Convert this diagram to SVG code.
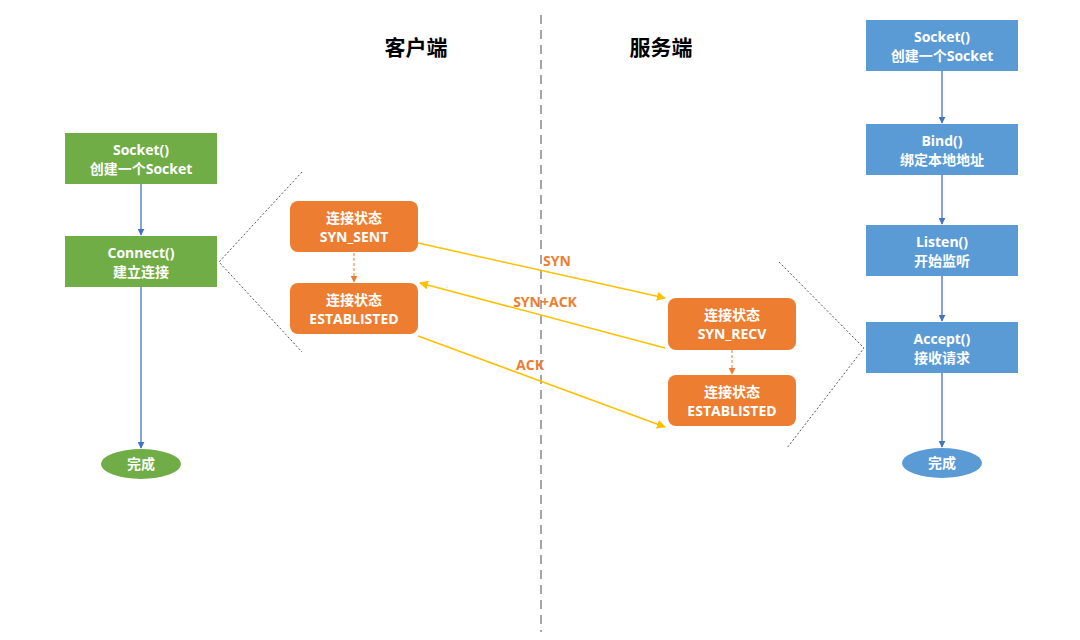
<svg xmlns="http://www.w3.org/2000/svg" width="1080" height="640" viewBox="0 0 1080 640">
<defs>
<style>
.t{font-family:"Open Sans","Noto Sans CJK SC",sans-serif;font-size:14px;font-weight:bold;fill:#fff;text-anchor:middle}
.h{font-family:"Noto Sans CJK SC",sans-serif;font-size:21px;font-weight:bold;fill:#000;text-anchor:middle}
.lbl{font-family:"Open Sans","Noto Sans CJK SC",sans-serif;font-size:14px;font-weight:bold;fill:#ED7D31;text-anchor:middle}
.g{fill:#70AD47}
.b{fill:#5B9BD5}
.o{fill:#ED7D31}
.bl{stroke:#4472C4;stroke-width:1.3;fill:none;marker-end:url(#ab)}
.yl{stroke:#FFC000;stroke-width:1.5;fill:none}
.od{stroke:#ED7D31;stroke-width:1;stroke-dasharray:3,2;fill:none;marker-end:url(#ao)}
.br{stroke:#555;stroke-width:1;stroke-dasharray:2,2;fill:none}
</style>
<marker id="ab" viewBox="0 0 10 10" refX="9" refY="5" markerWidth="7" markerHeight="7" orient="auto" markerUnits="userSpaceOnUse"><path d="M0,0L10,5L0,10z" fill="#4472C4"/></marker>
<marker id="ay" viewBox="0 0 10 10" refX="9" refY="5" markerWidth="9" markerHeight="9" orient="auto" markerUnits="userSpaceOnUse"><path d="M0,0L10,5L0,10z" fill="#FFC000"/></marker>
<marker id="ao" viewBox="0 0 10 10" refX="9" refY="5" markerWidth="7" markerHeight="7" orient="auto" markerUnits="userSpaceOnUse"><path d="M0,0L10,5L0,10z" fill="#ED7D31"/></marker>
</defs>
<rect width="1080" height="640" fill="#fff"/>
<line x1="541" y1="15" x2="541" y2="632" stroke="#A6A6A6" stroke-width="2" stroke-dasharray="9,6"/>
<text class="h" x="416" y="55">客户端</text>
<text class="h" x="661" y="55">服务端</text>

<g id="connectors">
<line class="bl" x1="141" y1="184" x2="141" y2="235"/>
<line class="bl" x1="141" y1="287" x2="141" y2="448"/>
<line class="bl" x1="942" y1="71" x2="942" y2="123"/>
<line class="bl" x1="942" y1="175" x2="942" y2="224"/>
<line class="bl" x1="942" y1="276" x2="942" y2="321"/>
<line class="bl" x1="942" y1="373" x2="942" y2="447"/>
<line class="od" x1="354" y1="253" x2="354" y2="282"/>
<line class="od" x1="732" y1="350" x2="732" y2="374"/>
<line class="yl" x1="418" y1="243" x2="665" y2="298" marker-end="url(#ay)"/>
<line class="yl" x1="665" y1="348" x2="420" y2="283" marker-end="url(#ay)"/>
<line class="yl" x1="418" y1="336" x2="665" y2="427" marker-end="url(#ay)"/>
<polyline class="br" points="302,172 219,262 302,352"/>
<polyline class="br" points="779,262 864,348 787,448"/>
<text class="lbl" x="557" y="266">SYN</text>
<text class="lbl" x="545" y="307">SYN+ACK</text>
<text class="lbl" x="530" y="370">ACK</text>
</g>

<g id="c-socket"><rect class="g" x="65" y="133" width="152" height="51"/><text class="t" x="141" y="155">Socket()</text><text class="t" x="141" y="174">创建一个Socket</text></g>
<g id="c-connect"><rect class="g" x="65" y="236" width="152" height="51"/><text class="t" x="141" y="258">Connect()</text><text class="t" x="141" y="277">建立连接</text></g>
<g id="c-done"><ellipse class="g" cx="141" cy="464" rx="40" ry="15"/><text class="t" x="141" y="469">完成</text></g>

<g id="c-synsent"><rect class="o" x="290" y="201" width="128" height="51" rx="8"/><text class="t" x="354" y="223">连接状态</text><text class="t" x="354" y="242">SYN_SENT</text></g>
<g id="c-est"><rect class="o" x="290" y="283" width="128" height="51" rx="8"/><text class="t" x="354" y="305">连接状态</text><text class="t" x="354" y="324">ESTABLISTED</text></g>
<g id="s-synrecv"><rect class="o" x="668" y="298" width="128" height="52" rx="8"/><text class="t" x="732" y="320">连接状态</text><text class="t" x="732" y="339">SYN_RECV</text></g>
<g id="s-est"><rect class="o" x="668" y="375" width="128" height="51" rx="8"/><text class="t" x="732" y="397">连接状态</text><text class="t" x="732" y="416">ESTABLISTED</text></g>

<g id="s-socket"><rect class="b" x="866" y="20" width="152" height="51"/><text class="t" x="942" y="42">Socket()</text><text class="t" x="942" y="61">创建一个Socket</text></g>
<g id="s-bind"><rect class="b" x="866" y="124" width="152" height="51"/><text class="t" x="942" y="146">Bind()</text><text class="t" x="942" y="165">绑定本地地址</text></g>
<g id="s-listen"><rect class="b" x="866" y="225" width="152" height="51"/><text class="t" x="942" y="247">Listen()</text><text class="t" x="942" y="266">开始监听</text></g>
<g id="s-accept"><rect class="b" x="866" y="322" width="152" height="51"/><text class="t" x="942" y="344">Accept()</text><text class="t" x="942" y="363">接收请求</text></g>
<g id="s-done"><ellipse class="b" cx="942" cy="463" rx="40" ry="15"/><text class="t" x="942" y="468">完成</text></g>
</svg>
